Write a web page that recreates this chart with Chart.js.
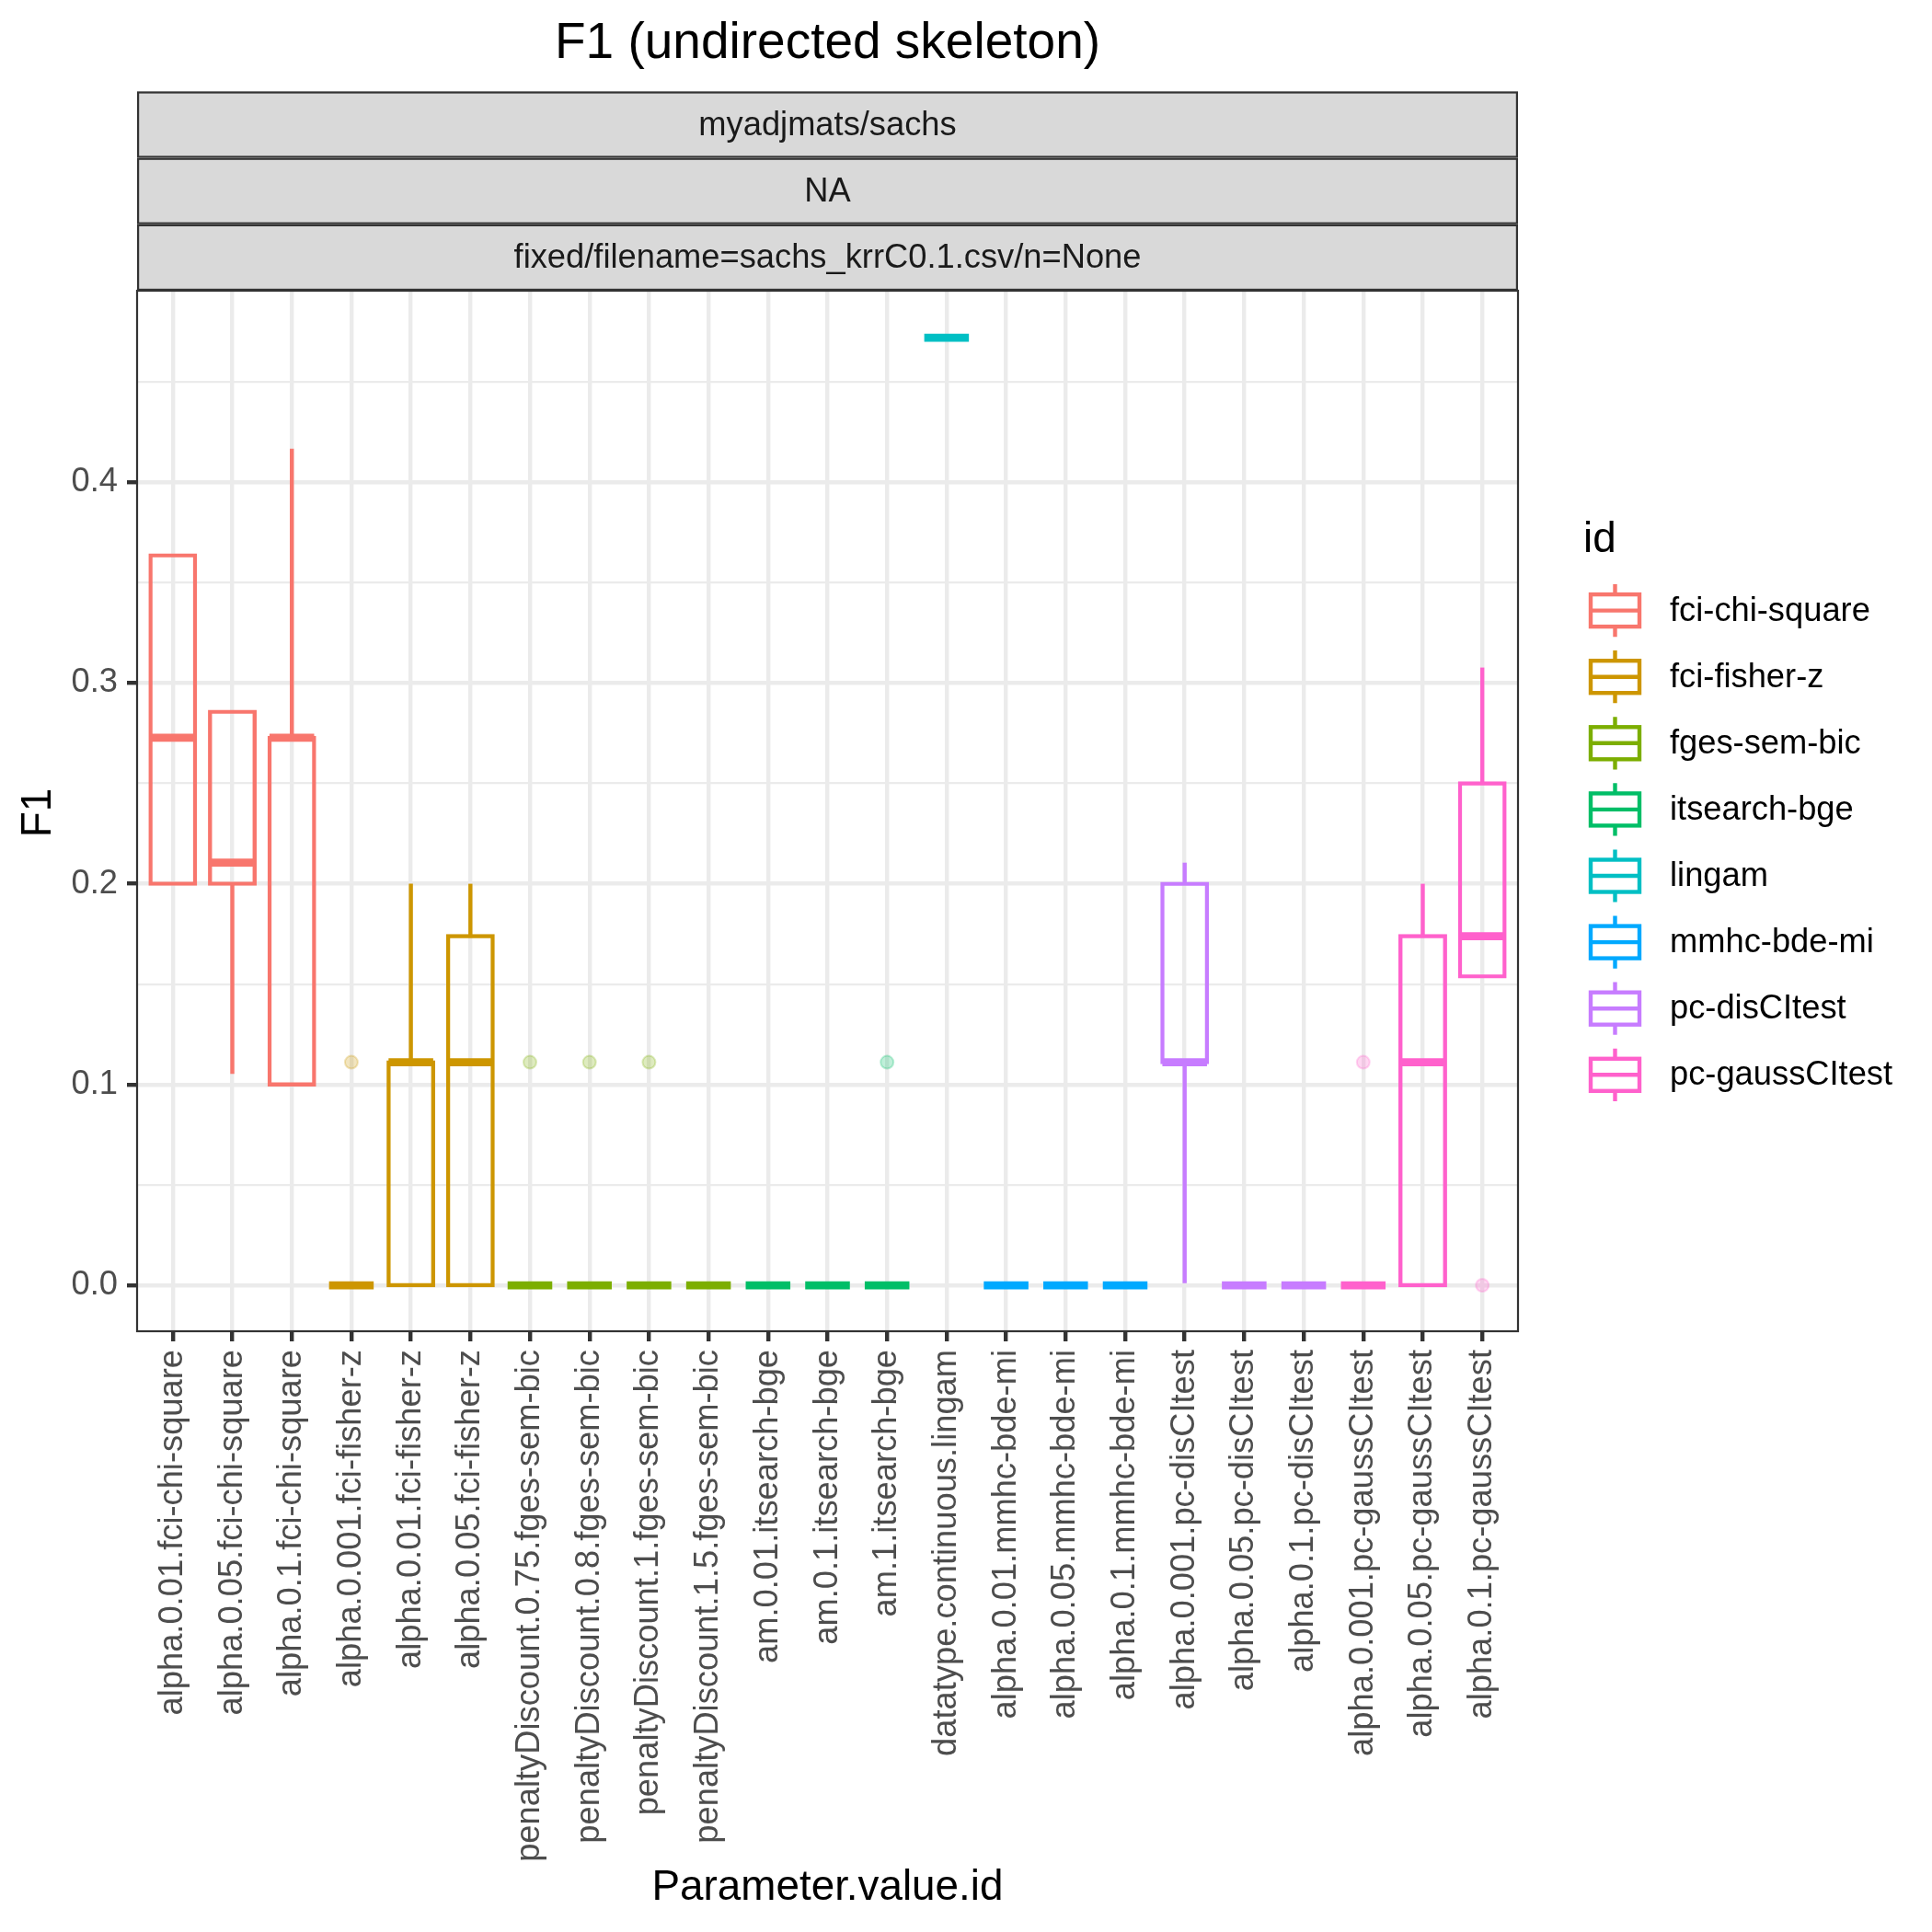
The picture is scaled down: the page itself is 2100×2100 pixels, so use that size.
<!doctype html>
<html lang="en">
<head>
  <meta charset="utf-8" />
  <title>F1 (undirected skeleton)</title>
  <script src="https://cdn.jsdelivr.net/npm/chart.js@4"></script>
  <style>
    html, body { margin: 0; background: #fff; }
    canvas { display: block; }
  </style>
</head>
<body>
  <canvas id="chart" width="2100" height="2100" style="width:2100px;height:2100px"></canvas>
  <script>
    // categories on the x axis (one box per parameter setting)
    const categories = [
      'alpha.0.01.fci-chi-square', 'alpha.0.05.fci-chi-square', 'alpha.0.1.fci-chi-square',
      'alpha.0.001.fci-fisher-z', 'alpha.0.01.fci-fisher-z', 'alpha.0.05.fci-fisher-z',
      'penaltyDiscount.0.75.fges-sem-bic', 'penaltyDiscount.0.8.fges-sem-bic',
      'penaltyDiscount.1.fges-sem-bic', 'penaltyDiscount.1.5.fges-sem-bic',
      'am.0.01.itsearch-bge', 'am.0.1.itsearch-bge', 'am.1.itsearch-bge',
      'datatype.continuous.lingam',
      'alpha.0.01.mmhc-bde-mi', 'alpha.0.05.mmhc-bde-mi', 'alpha.0.1.mmhc-bde-mi',
      'alpha.0.001.pc-disCItest', 'alpha.0.05.pc-disCItest', 'alpha.0.1.pc-disCItest',
      'alpha.0.001.pc-gaussCItest', 'alpha.0.05.pc-gaussCItest', 'alpha.0.1.pc-gaussCItest'
    ];
    const ids = ['fci-chi-square', 'fci-fisher-z', 'fges-sem-bic', 'itsearch-bge',
                 'lingam', 'mmhc-bde-mi', 'pc-disCItest', 'pc-gaussCItest'];
    const idColors = ['#F8766D', '#CD9600', '#7CAE00', '#00BE67', '#00BFC4', '#00A9FF', '#C77CFF', '#FF61CC'];
    const groupOf = [0, 0, 0, 1, 1, 1, 2, 2, 2, 2, 3, 3, 3, 4, 5, 5, 5, 6, 6, 6, 7, 7, 7];

    // box statistics
    const lower  = [0.2,    0.1053, 0.1,    0, 0,      0,      0, 0, 0, 0, 0, 0, 0, 0.472, 0, 0, 0, 0,      0, 0, 0, 0,      0.1538];
    const q1     = [0.2,    0.2,    0.1,    0, 0,      0,      0, 0, 0, 0, 0, 0, 0, 0.472, 0, 0, 0, 0.1111, 0, 0, 0, 0,      0.1538];
    const median = [0.2727, 0.2105, 0.2727, 0, 0.1111, 0.1111, 0, 0, 0, 0, 0, 0, 0, 0.472, 0, 0, 0, 0.1111, 0, 0, 0, 0.1111, 0.1739];
    const q3     = [0.3636, 0.2857, 0.2727, 0, 0.1111, 0.1739, 0, 0, 0, 0, 0, 0, 0, 0.472, 0, 0, 0, 0.2,    0, 0, 0, 0.1739, 0.25];
    const upper  = [0.3636, 0.2857, 0.4167, 0, 0.2,    0.2,    0, 0, 0, 0, 0, 0, 0, 0.472, 0, 0, 0, 0.2105, 0, 0, 0, 0.2,    0.3077];
    const outlierX = [3, 6, 7, 8, 12, 20, 22];
    const outlierY = [0.1111, 0.1111, 0.1111, 0.1111, 0.1111, 0.1111, 0];

    const yTicks = [0, 0.05, 0.1, 0.15, 0.2, 0.25, 0.3, 0.35, 0.4, 0.45];
    const yTickLabels = ['0.0', '', '0.1', '', '0.2', '', '0.3', '', '0.4', ''];

    const FONT = '"Liberation Sans", Arial, Helvetica, sans-serif';
    const SMALL = 36.3;
    const LW = 4.4;            // ggplot linewidth 0.5 at 300 dpi
    const MED_HALF = 0.002;    // half of the fattened median line, in F1 units
    const BOX_PAD = 0.001;     // half a box outline, in F1 units (outline is drawn inside the bar)
    const BOX_W = 0.75;

    const colorAt = (i) => idColors[groupOf[i]];
    function fade(hex, a) {
      const n = parseInt(hex.slice(1), 16);
      return `rgba(${n >> 16},${(n >> 8) & 255},${n & 255},${a})`;
    }
    const rawColor = (c) => (c.raw ? colorAt(c.raw.x) : '#000');

    const idx = categories.map((_, i) => i);
    const whiskerUp = idx.filter(i => upper[i] > q3[i]).map(i => ({ x: i, y: [q3[i], upper[i]] }));
    const whiskerDown = idx.filter(i => lower[i] < q1[i]).map(i => ({ x: i, y: [lower[i], q1[i]] }));
    const boxes = idx.filter(i => q3[i] > q1[i]).map(i => ({ x: i, y: [q1[i] - BOX_PAD, q3[i] + BOX_PAD] }));
    const medians = idx.map(i => ({ x: i, y: [median[i] - MED_HALF, median[i] + MED_HALF] }));
    const outliers = outlierX.map((x, k) => ({ x, y: outlierY[k] }));

    function text(ctx, str, x, y, size, color, align, baseline) {
      ctx.font = `${size}px ${FONT}`;
      ctx.fillStyle = color;
      ctx.textAlign = align;
      ctx.textBaseline = baseline;
      ctx.fillText(str, x, y);
    }

    const decor = {
      id: 'decor',
      beforeDraw(chart) {
        const ctx = chart.ctx;
        ctx.save();
        ctx.fillStyle = '#fff';
        ctx.fillRect(0, 0, chart.width, chart.height);
        ctx.restore();
      },
      afterDatasetsDraw(chart) {
        const { ctx, chartArea: a } = chart;
        ctx.save();
        ctx.strokeStyle = '#333333';
        ctx.lineWidth = 2.2;
        ctx.strokeRect(a.left, a.top, a.right - a.left, a.bottom - a.top);
        ctx.restore();
      },
      afterDraw(chart) {
        const { ctx, chartArea: a } = chart;
        const cx = (a.left + a.right) / 2;
        ctx.save();

        // facet strips
        const stripH = 72.2;
        const strips = ['myadjmats/sachs', 'NA', 'fixed/filename=sachs_krrC0.1.csv/n=None'];
        strips.forEach((s, k) => {
          const y0 = a.top - (strips.length - k) * stripH;
          ctx.fillStyle = '#D9D9D9';
          ctx.fillRect(a.left, y0, a.right - a.left, stripH);
          ctx.strokeStyle = '#333333';
          ctx.lineWidth = 2.2;
          ctx.strokeRect(a.left + 1.1, y0 + 1.1, a.right - a.left - 2.2, stripH - 2.2);
          text(ctx, s, cx, y0 + stripH / 2 + 1, SMALL, '#1A1A1A', 'center', 'middle');
        });

        // titles
        text(ctx, 'F1 (undirected skeleton)', cx, 63, 55, '#000', 'center', 'alphabetic');
        text(ctx, 'Parameter.value.id', cx, 2065, 45.8, '#000', 'center', 'alphabetic');
        ctx.save();
        ctx.translate(55, (a.top + a.bottom) / 2 + 2);
        ctx.rotate(-Math.PI / 2);
        text(ctx, 'F1', 0, 0, 45.8, '#000', 'center', 'alphabetic');
        ctx.restore();

        // legend
        text(ctx, 'id', 1721, 600, 45.8, '#000', 'left', 'alphabetic');
        ids.forEach((name, k) => {
          const ky = 663.6 + k * 72.1;
          const kx = 1755.5;
          ctx.strokeStyle = idColors[k];
          ctx.lineWidth = LW;
          ctx.beginPath();
          ctx.moveTo(kx, ky - 28.6); ctx.lineTo(kx, ky - 17.5);
          ctx.moveTo(kx, ky + 17.5); ctx.lineTo(kx, ky + 28.6);
          ctx.moveTo(kx - 26.5, ky); ctx.lineTo(kx + 26.5, ky);
          ctx.stroke();
          ctx.strokeRect(kx - 26.5, ky - 17.5, 53, 35);
          text(ctx, name, 1815, ky + 1, SMALL, '#000', 'left', 'middle');
        });
        ctx.restore();
      }
    };

    const barCommon = {
      type: 'bar',
      grouped: false,
      categoryPercentage: 1,
      inflateAmount: 0,
      borderSkipped: false
    };

    new Chart(document.getElementById('chart'), {
      type: 'bar',
      data: {
        datasets: [
          {
            ...barCommon, label: 'outliers', type: 'scatter', order: 0, data: outliers,
            pointRadius: 7, pointBorderWidth: 2,
            pointBackgroundColor: c => fade(rawColor(c), 0.25),
            pointBorderColor: c => fade(rawColor(c), 0.25)
          },
          {
            ...barCommon, label: 'median', order: 1, data: medians,
            barPercentage: BOX_W, backgroundColor: rawColor, borderWidth: 0
          },
          {
            ...barCommon, label: 'box', order: 2, data: boxes,
            barPercentage: BOX_W + LW / 64.7, backgroundColor: 'rgba(0,0,0,0)',
            borderColor: rawColor, borderWidth: LW
          },
          {
            ...barCommon, label: 'upper whisker', order: 3, data: whiskerUp,
            barThickness: LW, backgroundColor: rawColor, borderWidth: 0
          },
          {
            ...barCommon, label: 'lower whisker', order: 3, data: whiskerDown,
            barThickness: LW, backgroundColor: rawColor, borderWidth: 0
          }
        ]
      },
      options: {
        responsive: false,
        devicePixelRatio: 1,
        animation: false,
        events: [],
        layout: { padding: { top: 316, right: 450, left: 0, bottom: 0 } },
        plugins: { legend: { display: false }, tooltip: { enabled: false }, title: { display: false } },
        scales: {
          x: {
            type: 'linear',
            min: -0.6,
            max: 22.6,
            offset: false,
            afterFit: (s) => { s.height = 653; },
            afterBuildTicks: (s) => { s.ticks = categories.map((_, i) => ({ value: i })); },
            border: { display: false },
            grid: {
              offset: false,
              color: '#EBEBEB',
              lineWidth: LW,
              tickColor: '#333333',
              tickWidth: LW,
              tickLength: 11
            },
            ticks: {
              autoSkip: false,
              minRotation: 90,
              maxRotation: 90,
              padding: 9,
              color: '#4D4D4D',
              font: { family: FONT, size: SMALL },
              callback: (v, i) => categories[i]
            }
          },
          y: {
            type: 'linear',
            min: -0.0229,
            max: 0.4954,
            afterFit: (s) => { s.width = 149; },
            afterBuildTicks: (s) => { s.ticks = yTicks.map(v => ({ value: v })); },
            border: { display: false },
            grid: {
              color: '#EBEBEB',
              lineWidth: (c) => (c.index % 2 === 0 ? LW : LW / 2),
              tickColor: (c) => (c.index % 2 === 0 ? '#333333' : 'rgba(0,0,0,0)'),
              tickWidth: LW,
              tickLength: 11
            },
            ticks: {
              padding: 10,
              color: '#4D4D4D',
              font: { family: FONT, size: SMALL },
              callback: (v, i) => yTickLabels[i]
            }
          }
        }
      },
      plugins: [decor]
    });
  </script>
</body>
</html>
